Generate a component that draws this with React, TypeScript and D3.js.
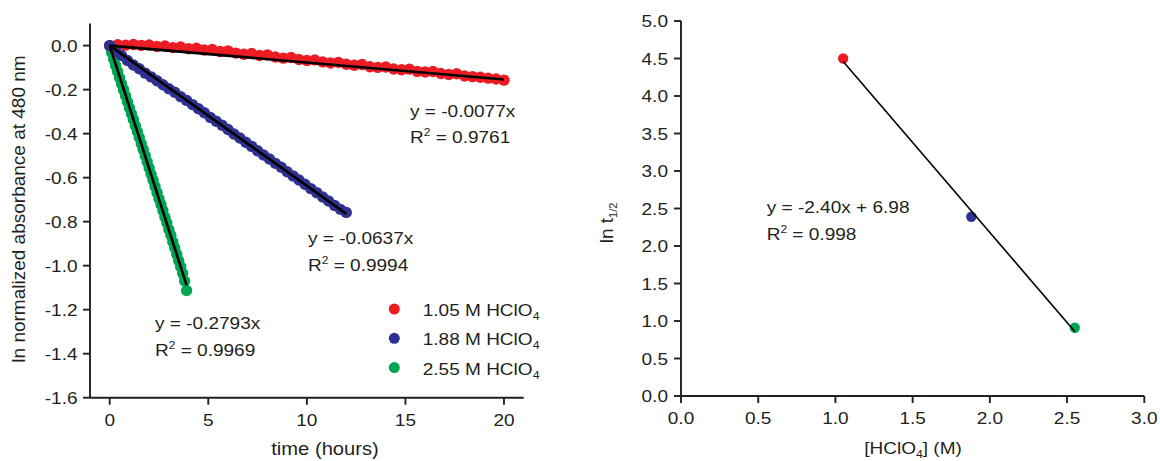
import React from 'react';
import * as d3 from 'd3';

// ln(normalized absorbance) vs time, one series per acid concentration
const redPts: [number, number][] = [
  [0, 0.0], [0.4, 0.004], [0.8, 0.002], [1.2, 0.005], [1.6, 0.001], [2.0, 0.003],
  [2.4, -0.004], [2.8, -0.002], [3.2, -0.009], [3.6, -0.006], [4.0, -0.014],
  [4.4, -0.012], [4.8, -0.02], [5.2, -0.018], [5.6, -0.027], [6.0, -0.024],
  [6.4, -0.034], [6.8, -0.039], [7.2, -0.036], [7.6, -0.045], [8.0, -0.042],
  [8.4, -0.052], [8.8, -0.057], [9.2, -0.054], [9.6, -0.063], [10.0, -0.068],
  [10.4, -0.065], [10.8, -0.074], [11.2, -0.079], [11.6, -0.076], [12.0, -0.085],
  [12.4, -0.089], [12.8, -0.086], [13.2, -0.096], [13.6, -0.099], [14.0, -0.097],
  [14.4, -0.106], [14.8, -0.11], [15.2, -0.107], [15.6, -0.117], [16.0, -0.12],
  [16.4, -0.118], [16.8, -0.127], [17.2, -0.131], [17.6, -0.128], [18.0, -0.138],
  [18.4, -0.141], [18.8, -0.144], [19.2, -0.148], [19.6, -0.152], [20.0, -0.157],
];

const bluePts: [number, number][] = [
  [0, 0.0], [0.3, -0.025], [0.6, -0.045], [0.9, -0.068], [1.2, -0.088], [1.5, -0.105],
  [1.8, -0.125], [2.1, -0.142], [2.4, -0.16], [2.7, -0.178], [3.0, -0.196],
  [3.3, -0.212], [3.6, -0.232], [3.9, -0.249], [4.2, -0.268], [4.5, -0.287],
  [4.8, -0.305], [5.1, -0.326], [5.4, -0.344], [5.7, -0.362], [6.0, -0.381],
  [6.3, -0.402], [6.6, -0.42], [6.9, -0.439], [7.2, -0.458], [7.5, -0.478],
  [7.8, -0.497], [8.1, -0.515], [8.4, -0.535], [8.7, -0.553], [9.0, -0.573],
  [9.3, -0.592], [9.6, -0.611], [9.9, -0.63], [10.2, -0.65], [10.5, -0.668],
  [10.8, -0.688], [11.1, -0.706], [11.4, -0.726], [11.7, -0.744], [12.0, -0.758],
];

const greenPts: [number, number][] = [
  [0, 0.0], [0.1, -0.032], [0.2, -0.062], [0.3, -0.09], [0.4, -0.118], [0.5, -0.146],
  [0.6, -0.174], [0.7, -0.2], [0.8, -0.228], [0.9, -0.255], [1.0, -0.283],
  [1.1, -0.31], [1.2, -0.336], [1.3, -0.364], [1.4, -0.39], [1.5, -0.418],
  [1.6, -0.446], [1.7, -0.472], [1.8, -0.5], [1.9, -0.528], [2.0, -0.556],
  [2.1, -0.585], [2.2, -0.612], [2.3, -0.64], [2.4, -0.668], [2.5, -0.696],
  [2.6, -0.722], [2.7, -0.75], [2.8, -0.78], [2.9, -0.806], [3.0, -0.836],
  [3.1, -0.862], [3.2, -0.892], [3.3, -0.92], [3.4, -0.948], [3.5, -0.978],
  [3.6, -1.005], [3.7, -1.035], [3.8, -1.07], [3.9, -1.113],
];

const seriesNames = ['1.05 M HClO', '1.88 M HClO', '2.55 M HClO'];
const seriesColors = ['#ed1c24', '#2e3192', '#00a651'];
const slopes = [-0.0077, -0.0637, -0.2793];
const slopeLabels = ['y = -0.0077x', 'y = -0.0637x', 'y = -0.2793x'];
const r2Labels = ['0.9761', '0.9994', '0.9969'];

// ln t1/2 vs [HClO4]
const acidConc = [1.05, 1.88, 2.55];
const lnHalfLife = [4.5, 2.39, 0.91];
const fitSlope = -2.4;
const fitIntercept = 6.98;

const leftYTicks = [0.0, -0.2, -0.4, -0.6, -0.8, -1.0, -1.2, -1.4, -1.6];
const leftXTicks = [0, 5, 10, 15, 20];
const rightYTicks = [0.0, 0.5, 1.0, 1.5, 2.0, 2.5, 3.0, 3.5, 4.0, 4.5, 5.0];
const rightXTicks = [0.0, 0.5, 1.0, 1.5, 2.0, 2.5, 3.0];

const INK = '#231f20';
const FONT = "'Liberation Sans', Arial, sans-serif";

const T = ({ x, y, anchor = 'start', size = 17, sx = 1.12, children }: any) => (
  <text transform={`translate(${x},${y}) scale(${sx},1)`} textAnchor={anchor} fontSize={size} fill={INK}>
    {children}
  </text>
);

const R2 = ({ x, y, val }: { x: number; y: number; val: string }) => (
  <T x={x} y={y} size={16} sx={1.19}>
    R<tspan fontSize={10} dy={-7}>2</tspan>
    <tspan dy={7}> = {val}</tspan>
  </T>
);

export default function App() {
  const xL = d3.scaleLinear().domain([-1, 21]).range([90, 523.7]);
  const yL = d3.scaleLinear().domain([-1.6, 0.1]).range([397.7, 23.6]);
  const xR = d3.scaleLinear().domain([0, 3]).range([681, 1144.3]);
  const yR = d3.scaleLinear().domain([0, 5]).range([396, 21]);

  const allSeries = [redPts, bluePts, greenPts];
  const drawOrder = [2, 0, 1];
  const line = d3.line<[number, number]>();

  const eqPos = [
    [410, 116.5, 142.7],
    [308, 243.5, 270.7],
    [155, 329.3, 356],
  ];

  const fitR = (c: number) => fitSlope * c + fitIntercept;

  return (
    <svg width={1160} height={461} style={{ position: 'absolute', left: 0, top: 0, background: '#fff' }} fontFamily={FONT}>
      {/* left panel axes */}
      <g stroke={INK} strokeWidth={1.9} fill="none">
        <line x1={xL(-1)} x2={xL(-1)} y1={yL(0.1)} y2={yL(-1.6)} />
        <line x1={xL(-1)} x2={xL(21)} y1={yL(-1.6)} y2={yL(-1.6)} />
        {leftYTicks.map((v) => (
          <line key={'ly' + v} x1={xL(-1) - 7} x2={xL(-1)} y1={yL(v)} y2={yL(v)} />
        ))}
        {leftXTicks.map((v) => (
          <line key={'lx' + v} x1={xL(v)} x2={xL(v)} y1={yL(-1.6)} y2={yL(-1.6) + 7} />
        ))}
      </g>
      {leftYTicks.map((v) => (
        <T key={'lyt' + v} x={77.5} y={yL(v) + 6} anchor="end">{v.toFixed(1)}</T>
      ))}
      {leftXTicks.map((v) => (
        <T key={'lxt' + v} x={xL(v)} y={425.5} anchor="middle">{String(v)}</T>
      ))}
      <T x={325} y={455} anchor="middle" size={18}>time (hours)</T>
      <text transform="translate(25,209) rotate(-90)" textAnchor="middle" fontSize={19} fill={INK}>
        ln normalized absorbance at 480 nm
      </text>

      {/* data points */}
      {drawOrder.map((si) => (
        <g key={'s' + si} fill={seriesColors[si]}>
          {allSeries[si].map(([t, v], i) => (
            <circle key={i} cx={xL(t)} cy={yL(v)} r={5.7} />
          ))}
        </g>
      ))}
      {/* fit lines */}
      {allSeries.map((pts, si) => {
        const tEnd = pts[pts.length - 1][0];
        return (
          <path
            key={'f' + si}
            d={line([[xL(0), yL(0)], [xL(tEnd), yL(slopes[si] * tEnd)]]) || ''}
            stroke="#000"
            strokeWidth={2.6}
            fill="none"
          />
        );
      })}
      {slopeLabels.map((s, i) => (
        <g key={'eq' + i}>
          <T x={eqPos[i][0]} y={eqPos[i][1]} size={16} sx={1.19}>{s}</T>
          <R2 x={eqPos[i][0]} y={eqPos[i][2]} val={r2Labels[i]} />
        </g>
      ))}

      {/* legend */}
      {seriesNames.map((n, i) => (
        <g key={'lg' + i}>
          <circle cx={394.3} cy={309 + i * 29.3} r={5.5} fill={seriesColors[i]} />
          <T x={422.7} y={316 + i * 29.3}>
            {n}
            <tspan fontSize={11} dy={4}>4</tspan>
          </T>
        </g>
      ))}

      {/* right panel axes */}
      <g stroke={INK} strokeWidth={1.9} fill="none">
        <line x1={xR(0)} x2={xR(0)} y1={yR(5)} y2={yR(0)} />
        <line x1={xR(0)} x2={xR(3)} y1={yR(0)} y2={yR(0)} />
        {rightYTicks.map((v) => (
          <line key={'ry' + v} x1={xR(0) - 7} x2={xR(0)} y1={yR(v)} y2={yR(v)} />
        ))}
        {rightXTicks.map((v) => (
          <line key={'rx' + v} x1={xR(v)} x2={xR(v)} y1={yR(0)} y2={yR(0) + 7} />
        ))}
      </g>
      {rightYTicks.map((v) => (
        <T key={'ryt' + v} x={668} y={yR(v) + 6} anchor="end">{v.toFixed(1)}</T>
      ))}
      {rightXTicks.map((v) => (
        <T key={'rxt' + v} x={xR(v)} y={423.5} anchor="middle">{v.toFixed(1)}</T>
      ))}
      <T x={913} y={454} anchor="middle">
        [HClO<tspan fontSize={11} dy={4}>4</tspan>
        <tspan dy={-4}>] (M)</tspan>
      </T>
      <text transform="translate(612.7,223) rotate(-90)" textAnchor="middle" fontSize={19} fill={INK}>
        ln t<tspan fontSize={11} dy={4}>1/2</tspan>
      </text>

      {acidConc.map((c, i) => (
        <circle key={'rp' + i} cx={xR(c)} cy={yR(lnHalfLife[i])} r={5.2} fill={seriesColors[i]} />
      ))}
      <path
        d={line([[xR(acidConc[0]), yR(fitR(acidConc[0]))], [xR(acidConc[2]), yR(fitR(acidConc[2]))]]) || ''}
        stroke="#000"
        strokeWidth={1.6}
        fill="none"
      />
      <T x={766.7} y={213.3} size={16} sx={1.19}>y = -2.40x + 6.98</T>
      <R2 x={766.7} y={240} val="0.998" />
    </svg>
  );
}
